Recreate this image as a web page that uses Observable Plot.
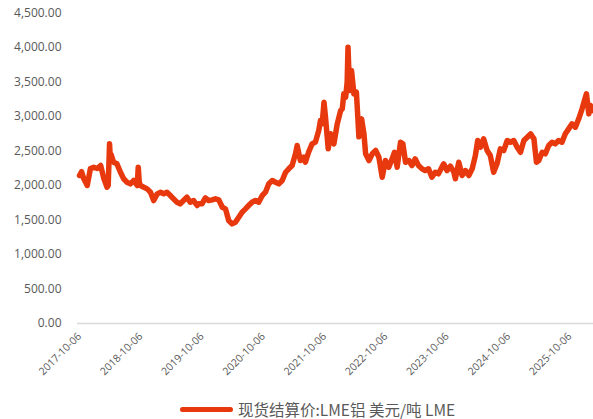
<!DOCTYPE html>
<html><head><meta charset="utf-8">
<script src="https://cdn.jsdelivr.net/npm/d3@7"></script>
<script src="https://cdn.jsdelivr.net/npm/@observablehq/plot@0.6"></script>
<style>
body{margin:0;background:#fff;width:593px;height:419px;overflow:hidden;position:relative;font-family:"Open Sans",sans-serif}
#legend{position:absolute;left:180px;top:398px;display:flex;align-items:center;font-family:"Noto Sans CJK SC",sans-serif;font-size:15.5px;line-height:22px;color:#595959;white-space:nowrap}
#legend .sw{display:inline-block;width:53px;height:5px;border-radius:3px;background:#e8390e;margin-right:5px}
</style></head><body>
<div id="chart"></div>
<div id="legend"><span class="sw"></span><span id="lt"></span></div>
<script>
const seriesName = "现货结算价:LME铝 美元/吨 LME";
const dates = [
"2017-10-06","2017-10-18","2017-10-31","2017-11-21","2017-12-10","2017-12-30","2018-01-20","2018-02-09","2018-02-28","2018-03-19","2018-03-26","2018-04-03","2018-04-08","2018-04-12","2018-04-27","2018-05-17","2018-06-07","2018-06-26","2018-07-16","2018-08-05","2018-08-25","2018-09-15","2018-09-21","2018-09-27","2018-10-04","2018-10-24","2018-11-13","2018-12-03","2018-12-22","2019-01-12","2019-02-01","2019-02-20","2019-03-11","2019-03-31","2019-04-19","2019-05-10","2019-05-29","2019-06-18","2019-07-08","2019-07-28","2019-08-17","2019-09-07","2019-09-16","2019-10-06","2019-10-26","2019-11-15","2019-12-05","2019-12-25","2020-01-14","2020-02-04","2020-02-23","2020-03-13","2020-04-02","2020-04-22","2020-05-12","2020-06-01","2020-06-21","2020-07-10","2020-07-30","2020-08-19","2020-09-08","2020-09-29","2020-10-18","2020-11-07","2020-11-28","2020-12-17","2021-01-06","2021-01-26","2021-02-15","2021-03-06","2021-03-26","2021-04-15","2021-04-25","2021-05-14","2021-06-03","2021-06-13","2021-07-02","2021-07-23","2021-08-12","2021-09-01","2021-09-11","2021-09-21","2021-10-02","2021-10-11","2021-10-27","2021-11-10","2021-11-30","2021-12-20","2022-01-09","2022-01-19","2022-01-28","2022-02-08","2022-02-17","2022-02-22","2022-02-28","2022-03-05","2022-03-15","2022-03-29","2022-04-13","2022-04-28","2022-05-14","2022-05-28","2022-06-07","2022-06-27","2022-07-17","2022-08-06","2022-08-25","2022-09-14","2022-10-03","2022-10-23","2022-11-12","2022-11-26","2022-12-12","2023-01-01","2023-01-15","2023-01-31","2023-02-20","2023-03-10","2023-03-29","2023-04-18","2023-05-09","2023-05-28","2023-06-17","2023-07-07","2023-07-27","2023-08-15","2023-09-15","2023-10-05","2023-10-25","2023-11-14","2023-11-24","2023-12-14","2024-01-03","2024-01-23","2024-02-12","2024-03-03","2024-03-22","2024-04-05","2024-04-21","2024-05-10","2024-05-31","2024-06-19","2024-07-09","2024-07-29","2024-08-18","2024-09-07","2024-09-28","2024-10-17","2024-11-06","2024-11-26","2024-12-16","2025-01-05","2025-01-25","2025-02-14","2025-03-06","2025-03-21","2025-04-04","2025-04-24","2025-05-13","2025-06-02","2025-06-22","2025-07-11","2025-07-31","2025-08-20","2025-09-09","2025-09-29","2025-10-19","2025-11-08","2025-11-28","2025-12-18","2026-01-01","2026-01-13","2026-01-27","2026-02-06","2026-02-22"
];
const values = [
2145,2200,2100,2000,2246,2265,2246,2290,2100,1975,2000,2604,2362,2450,2337,2314,2192,2097,2048,2024,2072,2000,2265,2050,2000,1975,1951,1903,1782,1879,1903,1879,1903,1855,1807,1758,1734,1782,1830,1758,1782,1710,1734,1734,1821,1782,1792,1807,1792,1685,1661,1492,1444,1468,1540,1613,1661,1710,1758,1782,1758,1855,1903,2024,2072,2048,2024,2072,2192,2242,2290,2459,2579,2362,2410,2337,2482,2604,2630,2800,2942,2894,3207,2990,2531,2749,2604,2894,3086,3111,3328,3279,3500,4004,3600,3376,3666,3328,3352,2705,2966,2749,2459,2362,2459,2507,2410,2120,2362,2265,2386,2482,2265,2627,2604,2337,2362,2290,2386,2290,2242,2217,2242,2120,2192,2169,2314,2217,2280,2200,2097,2337,2145,2217,2145,2242,2434,2652,2555,2676,2507,2434,2192,2314,2531,2507,2652,2627,2652,2555,2482,2652,2700,2749,2676,2337,2362,2482,2459,2579,2627,2604,2652,2627,2749,2821,2894,2845,2966,3111,3231,3328,3038,3159,3086
];
const yTicks = [0,500,1000,1500,2000,2500,3000,3500,4000,4500];
const xTickLabels = ["2017-10-06","2018-10-06","2019-10-06","2020-10-06","2021-10-06","2022-10-06","2023-10-06","2024-10-06","2025-10-06"];
const xDomain = ["2017-09-24","2026-02-24"];

const data = dates.map((d,i)=>({date:new Date(d), value:values[i]}));
const fmtDate = d3.utcFormat("%Y-%m-%d");
const chart = Plot.plot({
  width:593, height:375, marginLeft:77, marginRight:0, marginTop:12.5, marginBottom:52,
  x:{type:"utc", domain:xDomain.map(d=>new Date(d))},
  y:{domain:[0,4500]},
  style:{fontFamily:"'Open Sans',sans-serif", color:"#595959", background:"white", overflow:"visible"},
  marks:[
    Plot.axisY(yTicks,{tickSize:0, tickPadding:16, tickFormat:d3.format(",.2f"), fontSize:12, label:null}),
    Plot.axisX(xTickLabels.map(s=>new Date(s)),{tickSize:0, tickPadding:11, tickRotate:-45, fontSize:10.5, tickFormat:fmtDate, label:null}),
    Plot.ruleY([0],{stroke:"#d9d9d9", strokeWidth:1.5}),
    Plot.line(data,{x:"date", y:"value", stroke:"#e8390e", strokeWidth:5.5, strokeLinejoin:"round", strokeLinecap:"round"})
  ]
});
document.getElementById("chart").appendChild(chart);
document.getElementById("lt").textContent = seriesName;
</script>
</body></html>
